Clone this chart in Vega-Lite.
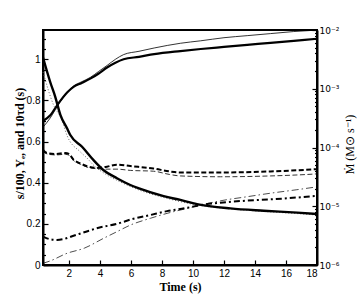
{
  "$schema": "https://vega.github.io/schema/vega-lite/v6.json",
  "autosize": "none",
  "padding": {"left": 43, "top": 30, "right": 42, "bottom": 34},
  "width": 274,
  "height": 235,
  "background": "white",
  "config": {
    "view": {"stroke": "black", "strokeWidth": 2},
    "axis": {"grid": false, "domainColor": "black", "domainWidth": 2, "tickColor": "black", "tickWidth": 1.2, "labelColor": "black", "titleColor": "black", "labelFont": "Liberation Sans", "labelFontSize": 10, "titleFont": "Liberation Serif", "titleFontSize": 12, "titleFontWeight": "bold"}
  },
  "datasets": {
    "sThick": [{"t":0.33,"v":0.70},{"t":0.8,"v":0.728},{"t":1.32,"v":0.785},{"t":1.9,"v":0.84},{"t":2.3,"v":0.866},{"t":2.8,"v":0.884},{"t":3.38,"v":0.906},{"t":3.9,"v":0.93},{"t":4.46,"v":0.96},{"t":5.0,"v":0.983},{"t":5.53,"v":1.0},{"t":6.52,"v":1.012},{"t":7.5,"v":1.025},{"t":9.19,"v":1.04},{"t":10.5,"v":1.05},{"t":12,"v":1.06},{"t":13.5,"v":1.07},{"t":15,"v":1.08},{"t":16.5,"v":1.09},{"t":18,"v":1.10}],
    "sThin": [{"t":0.33,"v":0.67},{"t":0.8,"v":0.715},{"t":1.32,"v":0.78},{"t":1.9,"v":0.84},{"t":2.3,"v":0.87},{"t":2.8,"v":0.89},{"t":3.38,"v":0.912},{"t":3.9,"v":0.94},{"t":4.46,"v":0.97},{"t":5.0,"v":1.0},{"t":5.53,"v":1.023},{"t":6.52,"v":1.039},{"t":7.5,"v":1.055},{"t":9.19,"v":1.078},{"t":10.5,"v":1.09},{"t":12,"v":1.105},{"t":13.5,"v":1.115},{"t":15,"v":1.125},{"t":16.5,"v":1.135},{"t":18,"v":1.142}],
    "yeThick": [{"t":0.33,"v":0.56},{"t":0.59,"v":0.544},{"t":1.12,"v":0.54},{"t":1.77,"v":0.544},{"t":2.0,"v":0.54},{"t":2.3,"v":0.512},{"t":2.74,"v":0.494},{"t":3.17,"v":0.48},{"t":3.81,"v":0.472},{"t":4.46,"v":0.478},{"t":5.1,"v":0.488},{"t":5.96,"v":0.481},{"t":7.45,"v":0.469},{"t":8.5,"v":0.455},{"t":9.19,"v":0.45},{"t":11.77,"v":0.45},{"t":15,"v":0.455},{"t":17.79,"v":0.465},{"t":18,"v":0.466}],
    "yeThin": [{"t":0.33,"v":0.552},{"t":0.59,"v":0.54},{"t":1.12,"v":0.535},{"t":1.77,"v":0.538},{"t":2.0,"v":0.534},{"t":2.3,"v":0.508},{"t":2.74,"v":0.49},{"t":3.17,"v":0.476},{"t":3.81,"v":0.468},{"t":4.46,"v":0.466},{"t":5.1,"v":0.466},{"t":5.96,"v":0.46},{"t":7.45,"v":0.456},{"t":8.5,"v":0.44},{"t":9.19,"v":0.433},{"t":11.77,"v":0.429},{"t":15,"v":0.433},{"t":17.79,"v":0.442},{"t":18,"v":0.443}],
    "tauThick": [{"t":0.33,"v":0.138},{"t":0.8,"v":0.125},{"t":1.23,"v":0.122},{"t":1.6,"v":0.125},{"t":2.3,"v":0.142},{"t":3.1,"v":0.162},{"t":3.92,"v":0.181},{"t":5.1,"v":0.2},{"t":6.07,"v":0.223},{"t":7.25,"v":0.243},{"t":8.33,"v":0.262},{"t":9.62,"v":0.278},{"t":10.48,"v":0.291},{"t":11.77,"v":0.303},{"t":13.5,"v":0.313},{"t":15,"v":0.319},{"t":16.7,"v":0.328},{"t":18,"v":0.336}],
    "tauThin": [{"t":0.33,"v":0.008},{"t":0.8,"v":0.02},{"t":1.88,"v":0.057},{"t":3.0,"v":0.082},{"t":4.24,"v":0.13},{"t":5.1,"v":0.162},{"t":5.96,"v":0.194},{"t":7.25,"v":0.227},{"t":8.33,"v":0.251},{"t":9.62,"v":0.275},{"t":10.48,"v":0.291},{"t":11.77,"v":0.312},{"t":13.5,"v":0.332},{"t":15,"v":0.349},{"t":16.7,"v":0.366},{"t":18,"v":0.38}],
    "mdotThick": [{"t":0.33,"v":3.4e-3},{"t":0.8,"v":1.29e-3},{"t":1.12,"v":7.3e-4},{"t":1.45,"v":3.6e-4},{"t":1.88,"v":2.12e-4},{"t":2.09,"v":1.63e-4},{"t":2.85,"v":1.03e-4},{"t":3.59,"v":6.1e-5},{"t":4.24,"v":4.1e-5},{"t":5.1,"v":3.0e-5},{"t":5.96,"v":2.3e-5},{"t":6.52,"v":2.02e-5},{"t":8.11,"v":1.49e-5},{"t":9.19,"v":1.28e-5},{"t":10.26,"v":1.09e-5},{"t":12.41,"v":9.2e-6},{"t":14.56,"v":8.4e-6},{"t":16.72,"v":7.8e-6},{"t":18,"v":7.4e-6}],
    "mdotThin": [{"t":0.33,"v":1.93e-3},{"t":1.01,"v":5.3e-4},{"t":1.55,"v":2.94e-4},{"t":1.88,"v":1.6e-4},{"t":2.74,"v":8.4e-5},{"t":3.17,"v":6.6e-5},{"t":3.59,"v":5.0e-5},{"t":4.46,"v":3.4e-5},{"t":5.32,"v":2.59e-5},{"t":6.52,"v":1.89e-5},{"t":8.11,"v":1.41e-5},{"t":10.26,"v":1.05e-5},{"t":12.41,"v":9.0e-6},{"t":14.56,"v":8.15e-6},{"t":16.72,"v":7.5e-6},{"t":18,"v":7.1e-6}]
  },
  "layer": [
    {
      "encoding": {
        "x": {"field": "t", "type": "quantitative", "scale": {"domain": [0.33, 18], "nice": false, "zero": false},
              "axis": {"values": [2,4,6,8,10,12,14,16,18], "tickSize": -5, "labelPadding": 8, "title": "Time  (s)", "titleY": 21, "titleBaseline": "middle"}},
        "y": {"field": "v", "type": "quantitative", "scale": {"domain": [0, 1.1425], "nice": false, "zero": false},
              "axis": {"orient": "left",
                       "values": [0,0.05,0.1,0.15,0.2,0.25,0.3,0.35,0.4,0.45,0.5,0.55,0.6,0.65,0.7,0.75,0.8,0.85,0.9,0.95,1,1.05,1.1],
                       "labelExpr": "round(datum.value*20) % 4 == 0 ? format(datum.value, '~g') : ''",
                       "tickSize": {"condition": {"test": "round(datum.value*20) % 4 == 0", "value": -5}, "value": -2.5},
                       "labelPadding": 8,
                       "title": "s/100, Yₑ, and 10τd  (s)", "titleX": -24, "titleY": 113, "titleAngle": -90, "titleBaseline": "middle", "titleAlign": "center"}}
      },
      "layer": [
        {"data": {"name": "sThin"}, "mark": {"type": "line", "interpolate": "monotone", "color": "black", "strokeWidth": 0.8}},
        {"data": {"name": "sThick"}, "mark": {"type": "line", "interpolate": "monotone", "color": "black", "strokeWidth": 2.2}},
        {"data": {"name": "yeThin"}, "mark": {"type": "line", "interpolate": "monotone", "color": "black", "strokeWidth": 0.8, "strokeDash": [5, 2.5]}},
        {"data": {"name": "yeThick"}, "mark": {"type": "line", "interpolate": "monotone", "color": "black", "strokeWidth": 2, "strokeDash": [5, 2.5]}},
        {"data": {"name": "tauThin"}, "mark": {"type": "line", "interpolate": "monotone", "color": "black", "strokeWidth": 0.7, "strokeDash": [7, 3, 1.5, 3]}},
        {"data": {"name": "tauThick"}, "mark": {"type": "line", "interpolate": "monotone", "color": "black", "strokeWidth": 2, "strokeDash": [6, 3, 2, 3]}}
      ]
    },
    {
      "encoding": {
        "x": {"field": "t", "type": "quantitative", "scale": {"domain": [0.33, 18], "nice": false, "zero": false},
              "axis": {"values": [2,4,6,8,10,12,14,16,18], "tickSize": -5, "labelPadding": 8, "title": "Time  (s)", "titleY": 21, "titleBaseline": "middle"}},
        "y": {"field": "v", "type": "quantitative", "scale": {"type": "log", "domain": [1e-6, 1e-2], "nice": false},
              "axis": {"orient": "right",
                       "values": [1e-6,2e-6,3e-6,4e-6,5e-6,6e-6,7e-6,8e-6,9e-6,1e-5,2e-5,3e-5,4e-5,5e-5,6e-5,7e-5,8e-5,9e-5,1e-4,2e-4,3e-4,4e-4,5e-4,6e-4,7e-4,8e-4,9e-4,1e-3,2e-3,3e-3,4e-3,5e-3,6e-3,7e-3,8e-3,9e-3,1e-2],
                       "labelExpr": "abs(log(datum.value)/LN10 - round(log(datum.value)/LN10)) < 0.01 ? ('10' + (round(log(datum.value)/LN10) == -2 ? '⁻²' : round(log(datum.value)/LN10) == -3 ? '⁻³' : round(log(datum.value)/LN10) == -4 ? '⁻⁴' : round(log(datum.value)/LN10) == -5 ? '⁻⁵' : '⁻⁶')) : ''",
                       "tickSize": {"condition": {"test": "abs(log(datum.value)/LN10 - round(log(datum.value)/LN10)) < 0.01", "value": -5}, "value": -2.5},
                       "labelPadding": 7,
                       "labelFont": "DejaVu Sans",
                       "labelFontSize": 9,
                       "title": "Ṁ  (M⊙ s⁻¹)", "titleX": 32, "titleY": 114, "titleAngle": -90, "titleBaseline": "middle", "titleAlign": "center", "titleFontWeight": "normal", "titleFontSize": 12}}
      },
      "layer": [
        {"data": {"name": "mdotThin"}, "mark": {"type": "line", "interpolate": "monotone", "color": "#555555", "strokeWidth": 0.9, "strokeDash": [1, 2]}},
        {"data": {"name": "mdotThick"}, "mark": {"type": "line", "interpolate": "monotone", "color": "black", "strokeWidth": 2.4}}
      ]
    }
  ],
  "resolve": {"scale": {"y": "independent"}}
}
